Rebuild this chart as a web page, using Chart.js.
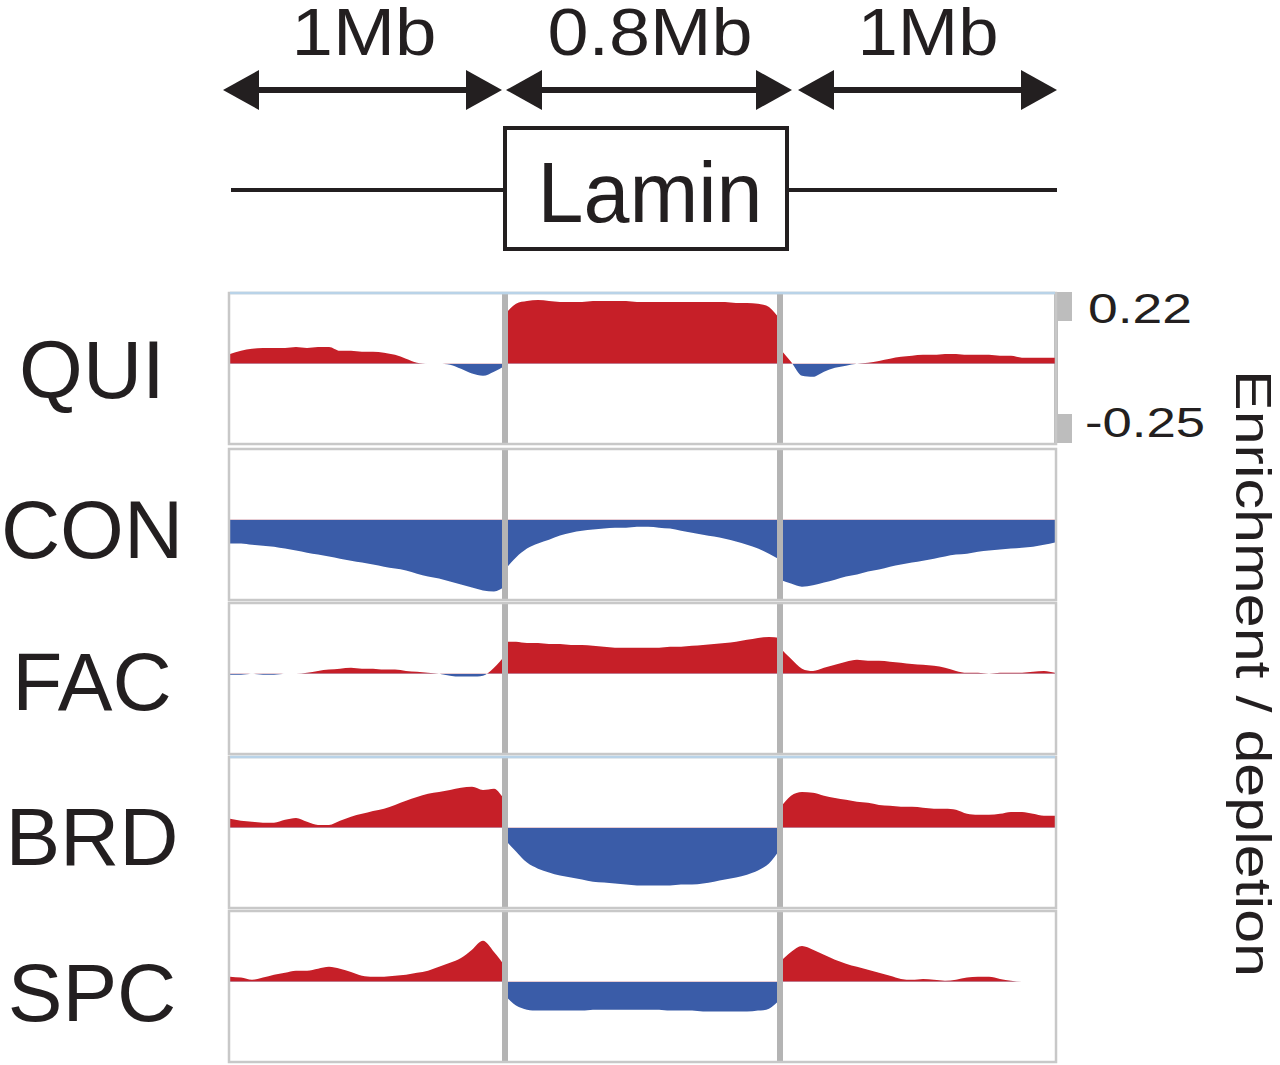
<!DOCTYPE html>
<html>
<head>
<meta charset="utf-8">
<script src="https://cdn.jsdelivr.net/npm/chart.js@4.4.0/dist/chart.umd.min.js"></script>
<style>
html, body { margin: 0; padding: 0; background: #fff; }
#page { position: relative; width: 1280px; height: 1065px; overflow: hidden; font-family: "Liberation Sans", Arial, sans-serif; }
#page canvas { position: absolute; }
#overlay { position: absolute; left: 0; top: 0; }
</style>
</head>
<body>
<div id="page">
<svg id="overlay" width="1280" height="1065" xmlns="http://www.w3.org/2000/svg" font-family="Liberation Sans, Arial, sans-serif" fill="#231f20">
  <!-- segment sizes -->
  <g id="scaleText" text-anchor="middle" font-size="67"></g>
  <g stroke="#231f20" stroke-width="6">
    <line x1="250" y1="90" x2="476" y2="90"/>
    <line x1="532" y1="90" x2="766" y2="90"/>
    <line x1="824" y1="90" x2="1031" y2="90"/>
  </g>
  <g fill="#231f20">
    <polygon points="223,90 259,70 259,110"/>
    <polygon points="502,90 466,70 466,110"/>
    <polygon points="506,90 542,70 542,110"/>
    <polygon points="792,90 756,70 756,110"/>
    <polygon points="798,90 834,70 834,110"/>
    <polygon points="1057,90 1021,70 1021,110"/>
  </g>
  <!-- lamin domain -->
  <line x1="231" y1="190" x2="1057" y2="190" stroke="#231f20" stroke-width="4"/>
  <rect x="505" y="128" width="282" height="121" fill="#fff" stroke="#231f20" stroke-width="4"/>
  <text x="650" y="222" font-size="86" text-anchor="middle" textLength="225" lengthAdjust="spacingAndGlyphs">Lamin</text>
  <!-- y range bracket -->
  <rect x="1054" y="292" width="4" height="151" fill="#bdbdbd"/>
  <rect x="1056" y="292" width="16" height="29" fill="#bdbdbd"/>
  <rect x="1056" y="414" width="16" height="29" fill="#bdbdbd"/>
  <g id="tickText" font-size="42"></g>
  <text transform="translate(1236,370) rotate(90)" font-size="50" textLength="607" lengthAdjust="spacingAndGlyphs">Enrichment / depletion</text>
  <g id="rowText" text-anchor="middle" font-size="82"></g>
</svg>
</div>
<script>
// categories
const rows = ['QUI', 'CON', 'FAC', 'BRD', 'SPC'];
const segments = ['1Mb', '0.8Mb', '1Mb'];
const yTicks = [0.22, -0.25];

// position of each bin inside its segment (0 = start, 1 = end)
const binPos = [0, 0.04, 0.08, 0.12, 0.16, 0.2, 0.24, 0.28, 0.32, 0.36, 0.4, 0.44, 0.48,
                0.52, 0.56, 0.6, 0.64, 0.68, 0.72, 0.76, 0.8, 0.84, 0.88, 0.92, 0.96, 1];

// QUI
const quiLeft  = [0.031,0.041,0.047,0.050,0.050,0.050,0.053,0.050,0.053,0.053,0.041,0.041,0.038,0.038,0.035,0.028,0.016,0.003,0,0,-0.003,-0.016,-0.031,-0.038,-0.025,-0.006];
const quiLamin = [0.157,0.189,0.198,0.201,0.198,0.195,0.195,0.195,0.198,0.198,0.198,0.198,0.195,0.195,0.195,0.195,0.195,0.195,0.195,0.195,0.195,0.192,0.192,0.189,0.179,0.141];
const quiRight = [0.047,0.006,-0.038,-0.041,-0.025,-0.013,-0.006,0,0.003,0.009,0.016,0.022,0.025,0.028,0.028,0.031,0.031,0.028,0.028,0.028,0.025,0.025,0.019,0.019,0.019,0.019];
// CON
const conLeft  = [-0.075,-0.075,-0.079,-0.082,-0.085,-0.091,-0.097,-0.104,-0.110,-0.116,-0.123,-0.129,-0.135,-0.141,-0.148,-0.154,-0.160,-0.170,-0.179,-0.185,-0.195,-0.204,-0.214,-0.223,-0.226,-0.211];
const conLamin = [-0.157,-0.119,-0.091,-0.075,-0.063,-0.050,-0.041,-0.035,-0.031,-0.028,-0.025,-0.025,-0.022,-0.022,-0.025,-0.028,-0.035,-0.041,-0.047,-0.053,-0.060,-0.069,-0.079,-0.091,-0.107,-0.126];
const conRight = [-0.189,-0.201,-0.211,-0.207,-0.198,-0.189,-0.179,-0.173,-0.163,-0.157,-0.148,-0.141,-0.135,-0.129,-0.123,-0.116,-0.110,-0.107,-0.101,-0.097,-0.094,-0.091,-0.088,-0.085,-0.079,-0.072];
// FAC
const facLeft  = [-0.003,-0.003,0,-0.003,-0.003,0,0,0.003,0.009,0.013,0.016,0.019,0.016,0.016,0.013,0.013,0.009,0.006,0.003,0,-0.006,-0.009,-0.009,-0.006,0.019,0.057];
const facLamin = [0.101,0.101,0.097,0.097,0.094,0.094,0.091,0.091,0.088,0.085,0.082,0.082,0.082,0.082,0.082,0.085,0.085,0.088,0.091,0.094,0.097,0.101,0.107,0.113,0.116,0.113];
const facRight = [0.082,0.047,0.016,0.009,0.019,0.028,0.038,0.044,0.041,0.041,0.038,0.035,0.031,0.028,0.025,0.019,0.009,0.003,0.003,0,0.003,0.003,0.003,0.006,0.009,0.003];
// BRD
const brdLeft  = [0.028,0.022,0.019,0.016,0.016,0.025,0.031,0.019,0.009,0.009,0.022,0.035,0.044,0.053,0.060,0.072,0.085,0.097,0.107,0.113,0.119,0.126,0.129,0.119,0.123,0.088];
const brdLamin = [-0.038,-0.075,-0.110,-0.129,-0.141,-0.151,-0.157,-0.163,-0.170,-0.173,-0.176,-0.179,-0.182,-0.182,-0.182,-0.182,-0.179,-0.179,-0.176,-0.170,-0.163,-0.157,-0.148,-0.135,-0.113,-0.069];
const brdRight = [0.063,0.101,0.113,0.110,0.101,0.094,0.088,0.082,0.079,0.072,0.069,0.066,0.066,0.063,0.060,0.060,0.057,0.044,0.041,0.041,0.044,0.050,0.050,0.044,0.038,0.038];
// SPC
const spcLeft  = [0.016,0.013,0.006,0.013,0.022,0.028,0.035,0.035,0.041,0.047,0.041,0.031,0.019,0.016,0.016,0.019,0.022,0.028,0.035,0.047,0.060,0.075,0.101,0.129,0.094,0.050];
const spcLamin = [-0.044,-0.075,-0.088,-0.091,-0.091,-0.091,-0.091,-0.091,-0.088,-0.088,-0.088,-0.088,-0.088,-0.088,-0.088,-0.091,-0.091,-0.091,-0.094,-0.094,-0.094,-0.094,-0.094,-0.091,-0.085,-0.057];
const spcRight = [0.063,0.094,0.113,0.101,0.085,0.069,0.057,0.047,0.038,0.028,0.019,0.009,0.006,0.009,0.006,0.003,0.006,0.013,0.016,0.016,0.009,0.003,0,0,0,0];

const tracks = [
    [quiLeft, quiLamin, quiRight],
    [conLeft, conLamin, conRight],
    [facLeft, facLamin, facRight],
    [brdLeft, brdLamin, brdRight],
    [spcLeft, spcLamin, spcRight]
];

const RED = '#c61f28';
const BLUE = '#3a5ca8';
const SVGNS = 'http://www.w3.org/2000/svg';

// layout of the panel rows
const rowTop = [294, 450, 604, 758, 912];
const rowH = 149;
const rowBase = [398, 558, 710, 865, 1021];

function svgText(parent, str, attrs) {
    let t = document.createElementNS(SVGNS, 'text');
    for (let k in attrs) t.setAttribute(k, attrs[k]);
    t.textContent = str;
    document.getElementById(parent).appendChild(t);
}

// segment labels on top
let segX = [364, 650, 928];
let segW = [145, 205, 141];
segments.forEach(function(s, i){
    svgText('scaleText', s, {x: segX[i], y: 55, textLength: segW[i], lengthAdjust: 'spacingAndGlyphs'});
});

// scale range labels
svgText('tickText', yTicks[0].toFixed(2), {x: 1088, y: 323, textLength: 104, lengthAdjust: 'spacingAndGlyphs'});
svgText('tickText', yTicks[1].toFixed(2), {x: 1085, y: 437, textLength: 120, lengthAdjust: 'spacingAndGlyphs'});

// frame + dividers drawn over the fills
const panelFrame = {
    id: 'panelFrame',
    afterDatasetsDraw(chart, args, opts) {
        const ctx = chart.ctx;
        const a = chart.chartArea;
        const x = chart.scales.x;
        ctx.save();
        ctx.strokeStyle = '#b4b4b4';
        ctx.lineWidth = 6;
        [1, 2].forEach(function(v){
            let px = x.getPixelForValue(v);
            ctx.beginPath();
            ctx.moveTo(px, a.top);
            ctx.lineTo(px, a.bottom);
            ctx.stroke();
        });
        ctx.lineWidth = 2.5;
        ctx.strokeStyle = '#c8c8c8';
        ctx.strokeRect(a.left - 1, a.top - 1, a.right - a.left + 2, a.bottom - a.top + 2);
        if (opts.topColor) {
            ctx.strokeStyle = opts.topColor;
            ctx.beginPath();
            ctx.moveTo(a.left, a.top - 1);
            ctx.lineTo(a.right, a.top - 1);
            ctx.stroke();
        }
        ctx.restore();
    }
};

let page = document.getElementById('page');

rows.forEach(function(name, r){
    svgText('rowText', name, {x: 92, y: rowBase[r]});

    let cv = document.createElement('canvas');
    cv.width = 838;
    cv.height = rowH + 8;
    cv.style.left = '224px';
    cv.style.top = (rowTop[r] - 4) + 'px';
    page.appendChild(cv);

    let datasets = tracks[r].map(function(vals, s){
        return {
            data: binPos.map(function(p, i){ return {x: s + p, y: vals[i]}; }),
            fill: {target: 'origin', above: RED, below: BLUE},
            borderWidth: 0,
            borderColor: 'rgba(0,0,0,0)',
            pointRadius: 0,
            cubicInterpolationMode: 'monotone'
        };
    });

    new Chart(cv.getContext('2d'), {
        type: 'line',
        data: { datasets: datasets },
        options: {
            responsive: false,
            animation: false,
            layout: { padding: {left: 6, right: 7, top: 4, bottom: 4} },
            plugins: {
                legend: { display: false },
                tooltip: { enabled: false },
                panelFrame: { topColor: (r === 0 || r === 3) ? '#b9d3e8' : null }
            },
            scales: {
                x: { type: 'linear', min: 0, max: 3, display: false },
                y: { min: yTicks[1], max: yTicks[0], display: false }
            }
        },
        plugins: [panelFrame]
    });
});
</script>
</body>
</html>
